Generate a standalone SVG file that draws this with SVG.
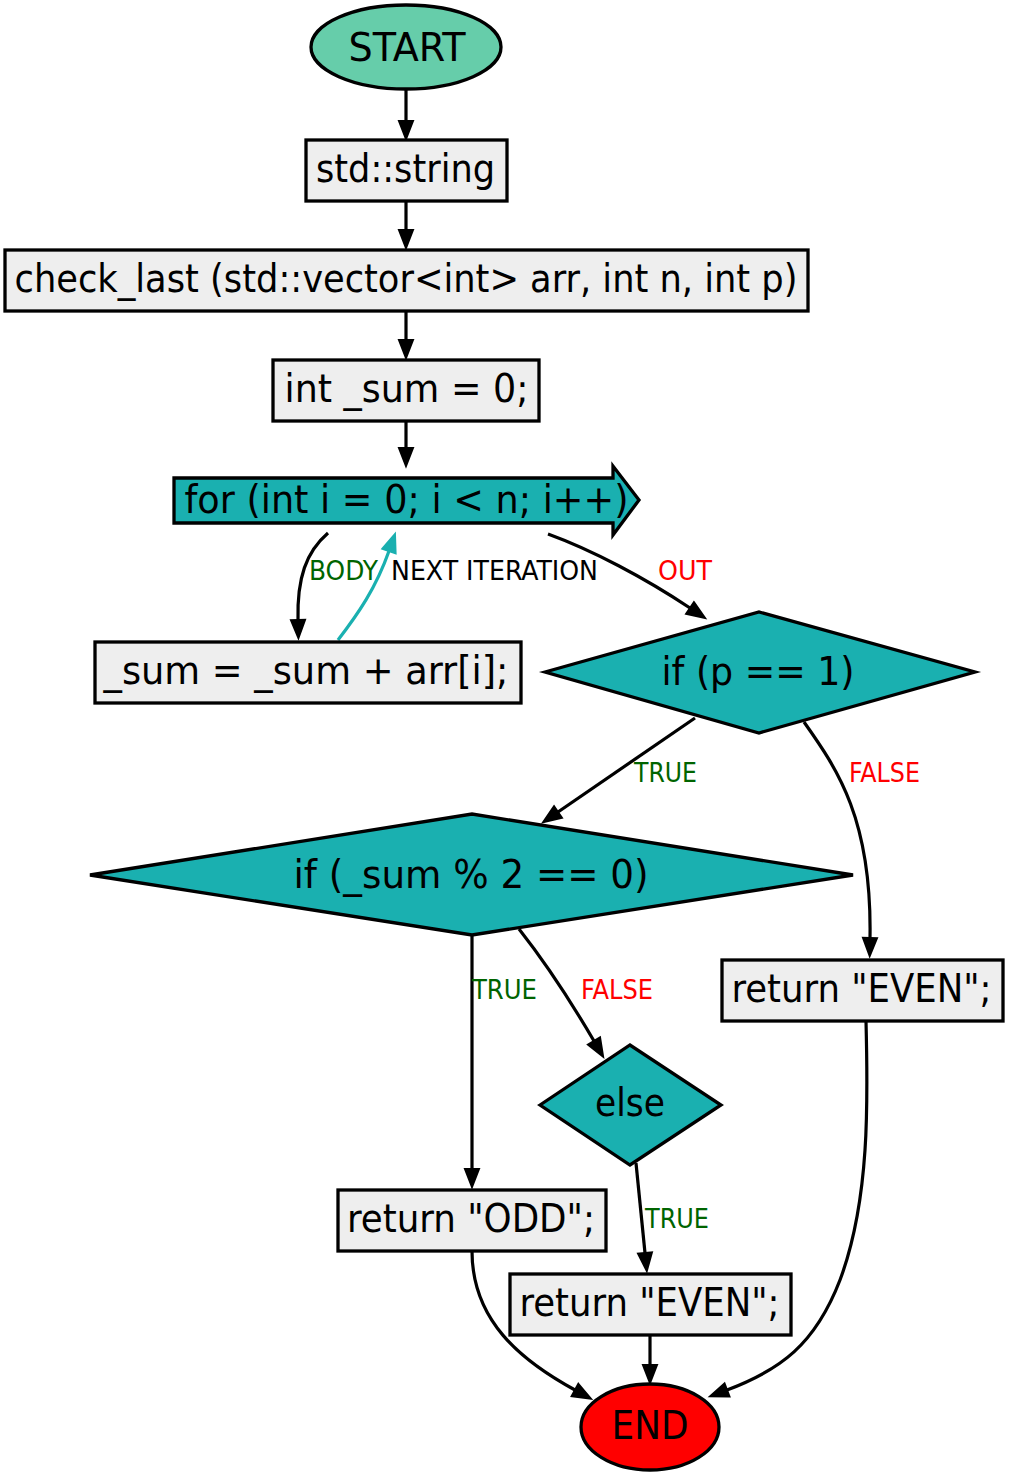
<svg xmlns="http://www.w3.org/2000/svg" width="1009" height="1476" viewBox="0 0 1009 1476">
<style>
text{font-family:"DejaVu Sans Condensed","DejaVu Sans",sans-serif;font-stretch:condensed}
.n{font-size:39px;text-anchor:middle;fill:#000}
.l{font-size:26px;text-anchor:middle}
.box{fill:#eeeeee;stroke:#000;stroke-width:3.3}
.dec{fill:#1ab0b0;stroke:#000;stroke-width:3.3;stroke-linejoin:miter}
.e{fill:none;stroke:#000;stroke-width:3.2}
.t{fill:none;stroke:#1ab0b0;stroke-width:3.2}
.g{fill:#006400}
.r{fill:#ff0000}
.k{fill:#000}
</style>
<defs>
<marker id="ah" markerUnits="userSpaceOnUse" markerWidth="22" markerHeight="16" refX="0" refY="7" orient="auto" overflow="visible">
<path d="M0,0 L18,7 L0,14 z" fill="#000" stroke="#000" stroke-width="2"/>
</marker>
<marker id="aht" markerUnits="userSpaceOnUse" markerWidth="22" markerHeight="16" refX="0" refY="7" orient="auto" overflow="visible">
<path d="M0,0 L18,7 L0,14 z" fill="#1ab0b0" stroke="#1ab0b0" stroke-width="2"/>
</marker>
</defs>
<g id="edges">
<path class="e" marker-end="url(#ah)" d="M406,90 L406,121"/>
<path class="e" marker-end="url(#ah)" d="M406,201 L406,230"/>
<path class="e" marker-end="url(#ah)" d="M406,311 L406,340"/>
<path class="e" marker-end="url(#ah)" d="M406,421 L406,448"/>
<path class="e" marker-end="url(#ah)" d="M328,533 C306,552 297,578 298,620"/>
<path class="t" marker-end="url(#aht)" d="M338,640 C358,614 376,588 389,551"/>
<path class="e" marker-end="url(#ah)" d="M548,534 C592,550 645,578 690,608"/>
<path class="e" marker-end="url(#ah)" d="M695,718 L558,812"/>
<path class="e" marker-end="url(#ah)" d="M804,722 C838,770 872,820 870,938"/>
<path class="e" marker-end="url(#ah)" d="M472,935 L472,1169"/>
<path class="e" marker-end="url(#ah)" d="M519,929 C545,962 570,1000 594,1041"/>
<path class="e" marker-end="url(#ah)" d="M636,1163 L645,1253"/>
<path class="e" marker-end="url(#ah)" d="M472,1251 C472,1320 520,1360 575,1390"/>
<path class="e" marker-end="url(#ah)" d="M650,1335 L650,1365"/>
<path class="e" marker-end="url(#ah)" d="M866,1021 C868,1100 870,1200 840,1280 C815,1345 780,1370 727,1390"/>
<text class="l g" x="343.5" y="580" textLength="69" lengthAdjust="spacingAndGlyphs">BODY</text>
<text class="l k" x="494.5" y="580" textLength="207" lengthAdjust="spacingAndGlyphs">NEXT ITERATION</text>
<text class="l r" x="685" y="580" textLength="54" lengthAdjust="spacingAndGlyphs">OUT</text>
<text class="l g" x="665.5" y="782" textLength="63" lengthAdjust="spacingAndGlyphs">TRUE</text>
<text class="l r" x="884.5" y="782" textLength="71" lengthAdjust="spacingAndGlyphs">FALSE</text>
<text class="l g" x="504.5" y="999" textLength="65" lengthAdjust="spacingAndGlyphs">TRUE</text>
<text class="l r" x="617" y="999" textLength="72" lengthAdjust="spacingAndGlyphs">FALSE</text>
<text class="l g" x="677" y="1228" textLength="64" lengthAdjust="spacingAndGlyphs">TRUE</text>
</g>
<g id="start">
<ellipse cx="406" cy="47" rx="95" ry="42" fill="#66cdaa" stroke="#000" stroke-width="3.3"/>
<text class="n" x="407" y="61" textLength="117" lengthAdjust="spacingAndGlyphs">START</text>
</g>
<g id="ret_type">
<rect class="box" x="306" y="140" width="201" height="61"/>
<text class="n" x="405.5" y="182" textLength="179" lengthAdjust="spacingAndGlyphs">std::string</text>
</g>
<g id="func">
<rect class="box" x="5" y="250" width="803" height="61"/>
<text class="n" x="406" y="292" textLength="783" lengthAdjust="spacingAndGlyphs">check_last (std::vector&lt;int&gt; arr, int n, int p)</text>
</g>
<g id="init">
<rect class="box" x="273" y="360" width="266" height="61"/>
<text class="n" x="406.5" y="402" textLength="244" lengthAdjust="spacingAndGlyphs">int _sum = 0;</text>
</g>
<g id="loop">
<polygon class="dec" points="174,478 613,478 613,466 639,500 613,535 613,523 174,523"/>
<text class="n" x="406.5" y="513" textLength="444" lengthAdjust="spacingAndGlyphs">for (int i = 0; i &lt; n; i++)</text>
</g>
<g id="body">
<rect class="box" x="95" y="642" width="426" height="61"/>
<text class="n" x="306" y="684" textLength="405" lengthAdjust="spacingAndGlyphs">_sum = _sum + arr[i];</text>
</g>
<g id="if_p">
<polygon class="dec" points="545,672 759,612 975,672 759,733"/>
<text class="n" x="758" y="685" textLength="193" lengthAdjust="spacingAndGlyphs">if (p == 1)</text>
</g>
<g id="if_sum">
<polygon class="dec" points="90,875 472,814 853,875 472,935"/>
<text class="n" x="471" y="888" textLength="355" lengthAdjust="spacingAndGlyphs">if (_sum % 2 == 0)</text>
</g>
<g id="ret_even1">
<rect class="box" x="722" y="960" width="281" height="61"/>
<text class="n" x="861.5" y="1002" textLength="260" lengthAdjust="spacingAndGlyphs">return "EVEN";</text>
</g>
<g id="else">
<polygon class="dec" points="540,1105 630,1045 721,1105 630,1165"/>
<text class="n" x="630" y="1116" textLength="70" lengthAdjust="spacingAndGlyphs">else</text>
</g>
<g id="ret_odd">
<rect class="box" x="338" y="1190" width="268" height="61"/>
<text class="n" x="471" y="1232" textLength="248" lengthAdjust="spacingAndGlyphs">return "ODD";</text>
</g>
<g id="ret_even2">
<rect class="box" x="510" y="1274" width="281" height="61"/>
<text class="n" x="649.5" y="1316" textLength="260" lengthAdjust="spacingAndGlyphs">return "EVEN";</text>
</g>
<g id="end">
<ellipse cx="650" cy="1427" rx="69" ry="43" fill="#ff0000" stroke="#000" stroke-width="3.3"/>
<text class="n" x="650" y="1439" textLength="77" lengthAdjust="spacingAndGlyphs">END</text>
</g>
</svg>
